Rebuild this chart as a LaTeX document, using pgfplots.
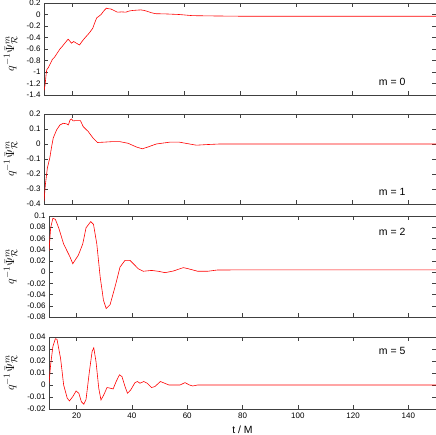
\documentclass[border=0pt]{standalone}
\usepackage{fontspec}
\setmainfont{Liberation Sans}
\usepackage{pgfplots}
\pgfplotsset{compat=1.18}

\pgfplotsset{
  panel/.style={
    scale only axis,
    anchor=south west,
    xmin=10, xmax=150,
    xtick={20,40,...,140},
    tick align=inside,
    xtick pos=both, ytick pos=both,
    major tick length=4bp,
    axis line style={black!75, line width=0.6pt},
    tick style={black!75, line width=0.5pt},
    tick label style={font=\fontsize{8}{9}\selectfont},
    /pgf/number format/assume math mode=true,
    /pgf/number format/fixed,
    /pgf/number format/precision=2,
    scaled y ticks=false,
    every axis y label/.style={rotate=90, anchor=center, font=\fontsize{13}{15}\selectfont},
    ylabel={$q^{-1}\bar{\Psi}^{m}_{\mathcal{R}}$},
    clip=true,
  },
  curve/.style={red, line width=0.6pt, no marks},
}

\begin{document}
\begin{tikzpicture}
\path[use as bounding box] (0bp,0bp) rectangle (436bp,435bp);

% m = 0
\begin{axis}[panel, at={(44bp,340bp)}, width=392bp, height=92bp,
  ymin=-1.4, ymax=0.2, ytick={-1.4,-1.2,...,0.2}, xticklabels={},
  ylabel style={at={(axis description cs:-0.085,0.45)}}]
\addplot[curve] coordinates {
(10,-1.32) (10.4,-1.22) (10.8,-1.02) (11,-0.96) (11.6,-0.92) (12.2,-0.86) (13,-0.78)
(13.8,-0.74) (14.6,-0.68) (15.7,-0.6) (16.6,-0.55) (17.4,-0.5) (18.1,-0.46) (18.6,-0.43)
(19.2,-0.46) (19.8,-0.5) (20.6,-0.47) (21.6,-0.5) (22.7,-0.53) (23.4,-0.48) (24.2,-0.43)
(25.1,-0.38) (26.2,-0.32) (27.4,-0.24) (28,-0.16) (28.8,-0.06) (29.6,-0.03) (30.4,0)
(31.3,0.06) (32.3,0.11) (33.1,0.1) (33.9,0.095) (35,0.07) (36.2,0.04) (37.8,0.045)
(39.2,0.04) (40.4,0.06) (41.6,0.07) (43,0.075) (44.6,0.08) (45.8,0.07) (46.9,0.055)
(48.4,0.03) (49.9,0.014) (53.5,0.01) (58.2,0) (63,-0.02) (70,-0.025) (80,-0.03)
(100,-0.03) (120,-0.03) (150,-0.03)
};
\node[anchor=east, font=\fontsize{10.5}{12}\selectfont] at (rel axis cs:0.931,0.141) {m = 0};
\end{axis}

% m = 1
\begin{axis}[panel, at={(44bp,231bp)}, width=392bp, height=90bp,
  ymin=-0.4, ymax=0.2, ytick={-0.4,-0.3,...,0.2}, xticklabels={},
  ylabel style={at={(axis description cs:-0.085,0.5)}}]
\addplot[curve] coordinates {
(10,-0.38) (10.5,-0.27) (11.2,-0.16) (12.1,-0.09) (12.7,-0.02) (13.3,0.04) (14.5,0.094)
(15.7,0.127) (16.9,0.138) (18.1,0.134) (18.7,0.127) (19.3,0.16) (19.8,0.167) (20.4,0.154)
(21.3,0.156) (22.2,0.156) (23,0.156) (24,0.116) (25.8,0.083) (27.5,0.04) (29.1,0.01)
(31.1,0.012) (34.6,0.016) (37,0.016) (40,0.005) (43,-0.02) (45.1,-0.032) (47.1,-0.02)
(50.1,0) (54.8,0.012) (58.4,0.012) (62,0) (64.4,-0.008) (68,-0.004) (72.7,0)
(90,0) (120,0) (150,0)
};
\node[anchor=east, font=\fontsize{10.5}{12}\selectfont] at (rel axis cs:0.931,0.133) {m = 1};
\end{axis}

% m = 2
\begin{axis}[panel, at={(49bp,118bp)}, width=387bp, height=101bp,
  ymin=-0.08, ymax=0.1, ytick={-0.08,-0.06,...,0.1}, xticklabels={},
  ylabel style={at={(axis description cs:-0.099,0.5)}}]
\addplot[curve] coordinates {
(10,0.038) (10.6,0.079) (11.4,0.096) (12.3,0.094) (13.5,0.079) (15.3,0.05) (17.6,0.027)
(18.6,0.015) (19.4,0.021) (20.6,0.03) (22.2,0.05) (23.4,0.079) (25.1,0.09) (26.1,0.085)
(27.3,0.05) (28.5,-0.008) (29.7,-0.05) (30.7,-0.065) (32.1,-0.058) (33.9,-0.026)
(35.7,0.009) (37.5,0.021) (39.3,0.021) (40.5,0.015) (42.3,0.006) (44.1,0.0015)
(47.1,0.003) (49.5,0.0015) (52,-0.001) (55,0.002) (58.6,0.008) (60.4,0.006)
(63.8,0.0015) (67.4,0.0015) (71,0.0038) (90,0.004) (120,0.004) (150,0.004)
};
\node[anchor=east, font=\fontsize{10.5}{12}\selectfont] at (rel axis cs:0.930,0.842) {m = 2};
\end{axis}

% m = 5
\begin{axis}[panel, at={(49bp,26bp)}, width=387bp, height=72bp,
  ymin=-0.02, ymax=0.04, ytick={-0.02,-0.01,...,0.04},
  xlabel={t / M}, xlabel style={font=\fontsize{10.5}{12}\selectfont, yshift=-1bp},
  ylabel style={at={(axis description cs:-0.099,0.5)}}]
\addplot[curve] coordinates {
(10,0.0015) (10.6,0.017) (11.4,0.032) (12.3,0.0386) (12.9,0.038) (14.2,0.022) (15.3,0)
(16.6,-0.011) (17.4,-0.0133) (18.6,-0.0097) (19.8,-0.005) (20.8,-0.0069) (21.7,-0.0139)
(22.6,-0.016) (23.4,-0.012) (24.6,0.011) (25.6,0.028) (26.2,0.031) (27,0.0196)
(28,-0.0027) (28.8,-0.0125) (29.8,-0.0083) (31,-0.0021) (32.2,-0.0027) (33.2,-0.0033)
(34.3,0.0029) (35.5,0.0085) (36.4,0.007) (37.5,-0.0013) (38.4,-0.0069) (39.6,-0.004)
(41.1,0.002) (42,0.0029) (42.9,0.0015) (44.3,0.0029) (45.5,0.0015) (47.1,-0.0021)
(48.3,-0.0013) (50.3,0.0029) (51.8,0.0015) (53.4,0) (57.4,0) (59.2,0.002) (60.8,0)
(62,-0.0008) (63.8,0) (90,0) (120,0) (150,0)
};
\node[anchor=east, font=\fontsize{10.5}{12}\selectfont] at (rel axis cs:0.930,0.806) {m = 5};
\end{axis}
\end{tikzpicture}
\end{document}
